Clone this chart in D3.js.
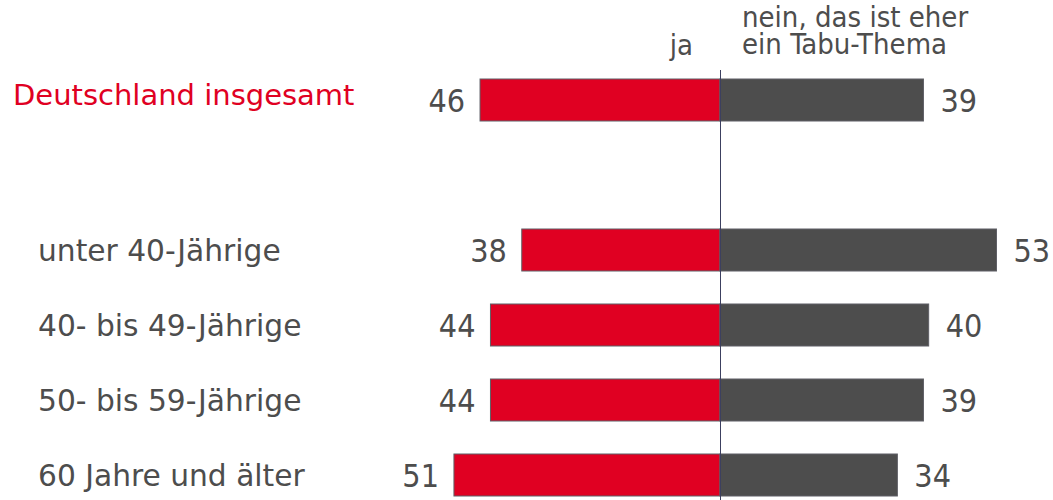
<!DOCTYPE html>
<html>
<head>
<meta charset="utf-8">
<script src="https://cdn.jsdelivr.net/npm/d3@7"></script>
<style>
	body { margin: 0; background: #fff; }
	svg { display: block; }
	.cat { font-family: "DejaVu Sans", Verdana, sans-serif; font-size: 29.7px; }
	.val, .head { font-family: "DejaVu Sans Condensed", "DejaVu Sans", sans-serif; fill: #4d4d4d; }
</style>
</head>
<body>
<div id="graphic"></div>
<script>
// categories, with an empty slot after the total
const categories = ["Deutschland insgesamt", "", "unter 40-Jährige", "40- bis 49-Jährige", "50- bis 59-Jährige", "60 Jahre und älter"];
const jaValues = [46, null, 38, 44, 44, 51];
const neinValues = [39, null, 53, 40, 39, 34];
const seriesLabels = ["ja", ["nein, das ist eher", "ein Tabu-Thema"]];

const width = 1053, height = 500;
const centre = 720;
const red = "#e00022", grey = "#4d4d4d";

let svg = d3.select('#graphic')
	.append('svg')
	.attr('width', width)
	.attr('height', height);

// bar length scale
let x = d3.scaleLinear().domain([0, 60]).range([0, 313]);

// row centres
let y = d3.scalePoint()
	.domain(d3.range(categories.length))
	.range([100, 475]);

const barH = 42;

const rows = categories.map((c, i) => ({ name: c, i: i, ja: jaValues[i], nein: neinValues[i] }))
	.filter(d => d.ja != null);

// ja bars (to the left)
svg.selectAll('rect.ja')
	.data(rows)
	.join('rect')
	.attr('class', 'ja')
	.attr('x', d => centre - x(d.ja))
	.attr('y', d => y(d.i) - barH / 2)
	.attr('width', d => x(d.ja))
	.attr('height', barH)
	.attr('fill', red)
	.attr('stroke', '#5f5f66')
	.attr('stroke-width', 1);

// nein bars (to the right)
svg.selectAll('rect.nein')
	.data(rows)
	.join('rect')
	.attr('class', 'nein')
	.attr('x', centre)
	.attr('y', d => y(d.i) - barH / 2)
	.attr('width', d => x(d.nein))
	.attr('height', barH)
	.attr('fill', grey)
	.attr('stroke', '#5f5f66')
	.attr('stroke-width', 1);

// centre line
svg.append('line')
	.attr('x1', centre + 0.5).attr('x2', centre + 0.5)
	.attr('y1', 70).attr('y2', height)
	.attr('stroke', '#3c4060')
	.attr('stroke-width', 1);

// value labels
svg.selectAll('text.vl')
	.data(rows)
	.join('text')
	.attr('class', 'val vl')
	.attr('x', d => centre - x(d.ja) - 15)
	.attr('y', d => y(d.i))
	.attr('dy', '0.36em')
	.attr('text-anchor', 'end')
	.style('font-size', '32px')
	.text(d => d.ja);

svg.selectAll('text.vr')
	.data(rows)
	.join('text')
	.attr('class', 'val vr')
	.attr('x', d => centre + x(d.nein) + 17)
	.attr('y', d => y(d.i))
	.attr('dy', '0.36em')
	.style('font-size', '32px')
	.text(d => d.nein);

// category labels
svg.selectAll('text.cat')
	.data(rows)
	.join('text')
	.attr('class', 'cat')
	.attr('x', d => d.i == 0 ? 13 : 38)
	.attr('y', d => d.i == 0 ? y(d.i) - 5 : y(d.i))
	.attr('dy', '0.36em')
	.attr('fill', d => d.i == 0 ? red : '#4d4d4d')
	.style('font-size', d => d.i == 0 ? '29px' : null)
	.text(d => d.name);

// series headers
svg.append('text')
	.attr('class', 'head')
	.attr('x', centre - 27)
	.attr('y', 55)
	.attr('text-anchor', 'end')
	.style('font-size', '29px')
	.text(seriesLabels[0]);

svg.append('text')
	.attr('class', 'head')
	.attr('x', centre + 22)
	.attr('y', 27)
	.style('font-size', '29px')
	.selectAll('tspan')
	.data(seriesLabels[1])
	.join('tspan')
	.attr('x', centre + 22)
	.attr('dy', (d, i) => i == 0 ? 0 : 27)
	.text(d => d);
</script>
</body>
</html>
